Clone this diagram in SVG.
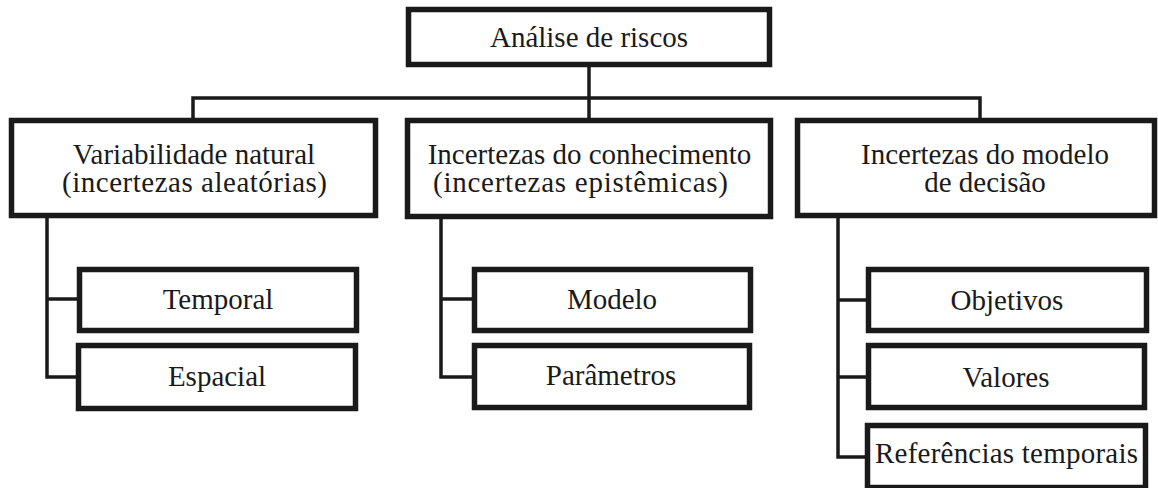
<svg xmlns="http://www.w3.org/2000/svg" width="1158" height="488" viewBox="0 0 1158 488">
<style>
.box{fill:#fff;stroke:#1a1a1a;stroke-width:5.5}
.ln{fill:none;stroke:#1a1a1a;stroke-width:3.5;stroke-linejoin:miter;stroke-linecap:square}
text{font-family:"Liberation Serif","Times New Roman",serif;font-size:29px;fill:#1a1a1a;text-anchor:middle}
</style>
<rect width="1158" height="488" fill="#fff"/>
<g id="connectors">
<path class="ln" d="M589,67 V118"/>
<path class="ln" d="M193,118 V98 H980 V118"/>
<path class="ln" d="M47,218 V377 H76 M47,299 H77"/>
<path class="ln" d="M441,219 V377 H472 M441,299 H472"/>
<path class="ln" d="M838,218 V457 H865 M838,300 H866 M838,377 H866"/>
</g>
<g id="root"><rect class="box" x="408.5" y="9.5" width="361" height="55"/><text x="589" y="47">Análise de riscos</text></g>
<g id="n1"><rect class="box" x="11.5" y="120.5" width="364" height="95"/><text x="194" y="164">Variabilidade natural</text><text x="194.5" y="192" textLength="265" lengthAdjust="spacing">(incertezas aleatórias)</text></g>
<g id="n2"><rect class="box" x="407.5" y="120.5" width="363" height="96"/><text x="589.5" y="164">Incertezas do conhecimento</text><text x="580.5" y="192" textLength="295" lengthAdjust="spacing">(incertezas epistêmicas)</text></g>
<g id="n3"><rect class="box" x="797.5" y="120.5" width="357" height="95"/><text x="985" y="164">Incertezas do modelo</text><text x="985" y="192">de decisão</text></g>
<g id="n11"><rect class="box" x="79.5" y="269.5" width="277" height="61"/><text x="218" y="309">Temporal</text></g>
<g id="n12"><rect class="box" x="78.5" y="345.5" width="277" height="63"/><text x="217" y="386">Espacial</text></g>
<g id="n21"><rect class="box" x="474.5" y="269.5" width="276" height="61"/><text x="612" y="309">Modelo</text></g>
<g id="n22"><rect class="box" x="474.5" y="345.5" width="275" height="62"/><text x="611" y="385">Parâmetros</text></g>
<g id="n31"><rect class="box" x="868.5" y="269.5" width="278" height="61"/><text x="1007" y="310">Objetivos</text></g>
<g id="n32"><rect class="box" x="868.5" y="345.5" width="276" height="62"/><text x="1006" y="387">Valores</text></g>
<g id="n33"><rect class="box" x="867.5" y="425.5" width="278" height="62"/><text x="1006.5" y="463" textLength="263" lengthAdjust="spacing">Referências temporais</text></g>
</svg>
